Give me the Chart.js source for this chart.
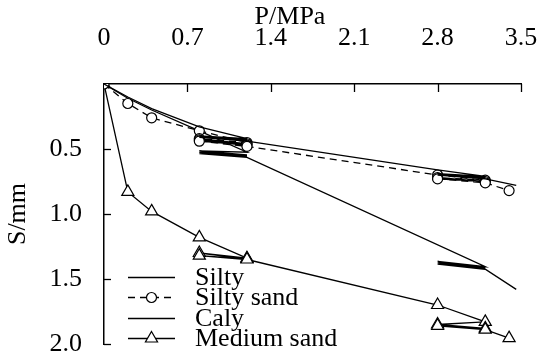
<!DOCTYPE html>
<html>
<head>
<meta charset="utf-8">
<script src="https://cdn.jsdelivr.net/npm/chart.js@4/dist/chart.umd.min.js"></script>
<style>
html,body{margin:0;padding:0;background:#fff;}
#wrap{width:541px;height:353px;position:relative;}
</style>
</head>
<body>
<div id="wrap"><canvas id="c" width="541" height="353"></canvas></div>
<script>
// ---- data ----
const xTicks = [0, 0.7, 1.4, 2.1, 2.8, 3.5];
const yTicks = [0.5, 1.0, 1.5, 2.0];
const seriesNames = ['Silty', 'Silty sand', 'Caly', 'Medium sand'];
const xTitle = 'P/MPa';
const yTitle = 'S/mm';

const siltyP = [0, 0.2, 0.4, 0.8, 1.2, 0.8, 1.2, 0.8, 1.2, 2.8, 3.2, 2.8, 3.2, 2.8, 3.2, 3.46];
const siltyS = [0, 0.10, 0.19, 0.33, 0.42, 0.40, 0.43, 0.41, 0.44, 0.66, 0.71, 0.69, 0.72, 0.70, 0.73, 0.78];

const siltySandP = [0, 0.2, 0.4, 0.8, 1.2, 0.8, 1.2, 0.8, 1.2, 0.8, 1.2, 2.8, 3.2, 2.8, 3.2, 2.8, 3.2, 3.4];
const siltySandS = [0, 0.15, 0.26, 0.36, 0.45, 0.42, 0.46, 0.43, 0.47, 0.44, 0.48, 0.70, 0.74, 0.72, 0.75, 0.73, 0.76, 0.82];

const calyP = [0, 0.2, 0.4, 0.8, 1.2, 0.8, 1.2, 0.8, 1.2, 0.8, 1.2, 3.2, 2.8, 3.2, 2.8, 3.2, 2.8, 3.2, 3.46];
const calyS = [0, 0.11, 0.20, 0.36, 0.525, 0.515, 0.545, 0.525, 0.555, 0.535, 0.565, 1.405, 1.365, 1.41, 1.375, 1.415, 1.385, 1.425, 1.58];

const mediumSandP = [0, 0.2, 0.4, 0.8, 1.2, 0.8, 1.2, 0.8, 1.2, 2.8, 3.2, 2.8, 3.2, 2.8, 3.2, 3.4];
const mediumSandS = [0, 0.83, 0.98, 1.18, 1.34, 1.30, 1.345, 1.32, 1.35, 1.70, 1.83, 1.85, 1.88, 1.86, 1.89, 1.955];

// ---- chart ----
const FONT = "'Liberation Serif', 'Times New Roman', serif";
const pts = (P, S) => P.map((p, i) => ({ x: p, y: S[i] }));

const tickMarks = {
  id: 'tickMarks',
  afterDraw(chart) {
    const ctx = chart.ctx, a = chart.chartArea;
    const xs = chart.scales.x, ys = chart.scales.y;
    ctx.save();
    ctx.strokeStyle = '#000';
    ctx.lineWidth = 1.3;
    xTicks.forEach(v => {
      if (v === 0) return;
      const px = Math.round(xs.getPixelForValue(v)) + 0.5;
      ctx.beginPath(); ctx.moveTo(px, a.top); ctx.lineTo(px, a.top + 8); ctx.stroke();
    });
    yTicks.forEach(v => {
      const py = Math.round(ys.getPixelForValue(v)) + 0.5;
      ctx.beginPath(); ctx.moveTo(a.left, py); ctx.lineTo(a.left + 7, py); ctx.stroke();
    });
    // x-axis title (placed left of centre as in the original figure)
    ctx.fillStyle = '#000';
    ctx.font = '26px ' + FONT;
    ctx.textAlign = 'center';
    ctx.textBaseline = 'alphabetic';
    ctx.fillText(xTitle, a.left + 186, 24);
    ctx.restore();
  }
};

const legendPlugin = {
  id: 'customLegend',
  afterDraw(chart) {
    const ctx = chart.ctx, a = chart.chartArea;
    const x0 = a.left + 24, x1 = x0 + 47, tx = x1 + 20;
    const rowH = 20.3, y0 = a.bottom - 67;
    seriesNames.forEach((name, i) => {
      const ds = chart.data.datasets[i];
      const y = Math.round(y0 + i * rowH) + 0.5;
      ctx.save();
      ctx.strokeStyle = '#000';
      ctx.lineWidth = ds.borderWidth;
      ctx.setLineDash(ds.borderDash || []);
      ctx.beginPath(); ctx.moveTo(x0, y); ctx.lineTo(x1, y); ctx.stroke();
      ctx.setLineDash([]);
      const cx = (x0 + x1) / 2;
      if (ds.pointRadius > 0) {
        ctx.fillStyle = '#fff';
        ctx.lineWidth = ds.pointBorderWidth;
        ctx.beginPath();
        if (ds.pointStyle === 'triangle') {
          const r = ds.pointRadius;
          ctx.moveTo(cx, y - r);
          ctx.lineTo(cx + r * 0.866, y + r * 0.5);
          ctx.lineTo(cx - r * 0.866, y + r * 0.5);
          ctx.closePath();
        } else {
          ctx.arc(cx, y, ds.pointRadius, 0, Math.PI * 2);
        }
        ctx.fill(); ctx.stroke();
      }
      ctx.fillStyle = '#000';
      ctx.font = '26px ' + FONT;
      ctx.textBaseline = 'middle';
      ctx.textAlign = 'left';
      ctx.fillText(name, tx, y + 1);
      ctx.restore();
    });
  }
};

const common = { showLine: true, borderColor: '#000', tension: 0, fill: false };

new Chart(document.getElementById('c'), {
  type: 'scatter',
  data: {
    datasets: [
      Object.assign({}, common, { label: seriesNames[0], data: pts(siltyP, siltyS), borderWidth: 1.3, pointRadius: 0, pointHoverRadius: 0 }),
      Object.assign({}, common, { label: seriesNames[1], data: pts(siltySandP, siltySandS), borderWidth: 1.3, borderDash: [7, 5],
        pointStyle: 'circle', pointRadius: 5, pointBorderWidth: 1.2, pointBackgroundColor: '#fff', pointBorderColor: '#000' }),
      Object.assign({}, common, { label: seriesNames[2], data: pts(calyP, calyS), borderWidth: 1.3, pointRadius: 0, pointHoverRadius: 0 }),
      Object.assign({}, common, { label: seriesNames[3], data: pts(mediumSandP, mediumSandS), borderWidth: 1.3,
        pointStyle: 'triangle', pointRadius: 7, pointBorderWidth: 1.2, pointBackgroundColor: '#fff', pointBorderColor: '#000' })
    ]
  },
  options: {
    responsive: false,
    animation: false,
    devicePixelRatio: 1,
    layout: { padding: { right: 20, bottom: 9, left: 0, top: 0 } },
    plugins: { legend: { display: false }, tooltip: { enabled: false } },
    scales: {
      x: {
        type: 'linear', position: 'top', min: 0, max: 3.5,
        afterBuildTicks: s => { s.ticks = xTicks.map(v => ({ value: v })); },
        afterFit: s => { s.height = 84; s.paddingLeft = 0; s.paddingRight = 0; },
        ticks: { autoSkip: false, maxRotation: 0, padding: 30, color: '#000', font: { family: FONT, size: 26 },
          callback: v => (v === 0 ? '0' : v.toFixed(1)) },
        grid: { display: true, drawOnChartArea: false, drawTicks: false },
        border: { display: true, color: '#000', width: 1.5 },
        title: { display: false }
      },
      y: {
        type: 'linear', position: 'left', reverse: true, min: 0, max: 2.0,
        afterBuildTicks: s => { s.ticks = yTicks.map(v => ({ value: v })); },
        afterFit: s => { s.width = 104; s.paddingTop = 0; s.paddingBottom = 0; },
        ticks: { autoSkip: false, padding: 22, color: '#000', font: { family: FONT, size: 26 },
          callback: v => v.toFixed(1) },
        grid: { display: true, drawOnChartArea: false, drawTicks: false },
        border: { display: true, color: '#000', width: 1.5 },
        title: { display: true, text: yTitle, color: '#000', font: { family: FONT, size: 26 }, padding: { top: 3, bottom: 0 } }
      }
    }
  },
  plugins: [tickMarks, legendPlugin]
});
</script>
</body>
</html>
